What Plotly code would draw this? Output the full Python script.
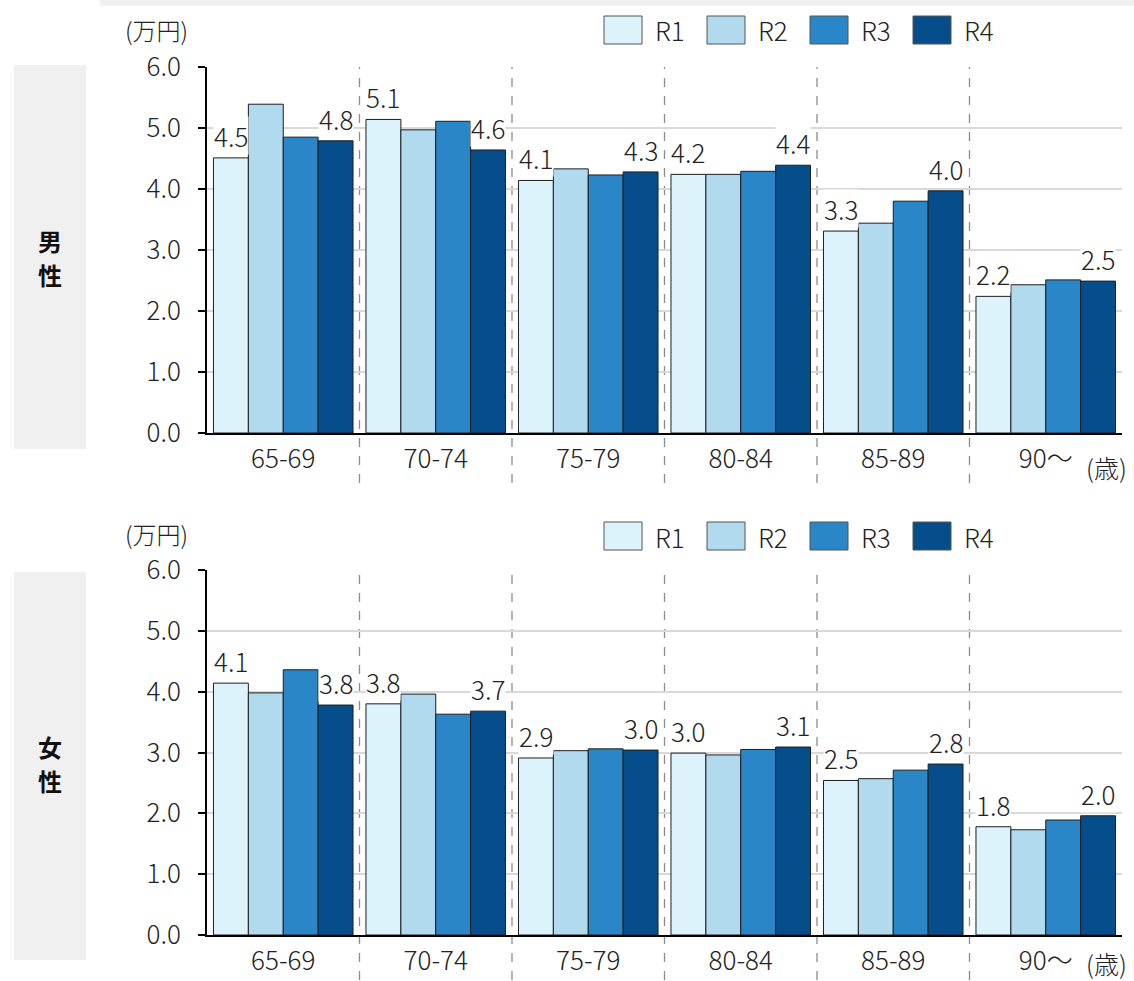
import plotly.graph_objects as go

# ---------------- data ----------------
categories = ["65-69", "70-74", "75-79", "80-84", "85-89", "90～"]
series_names = ["R1", "R2", "R3", "R4"]

male_r1 = [4.51, 5.14, 4.14, 4.24, 3.31, 2.24]
male_r2 = [5.39, 4.97, 4.33, 4.24, 3.44, 2.43]
male_r3 = [4.85, 5.11, 4.23, 4.29, 3.80, 2.51]
male_r4 = [4.79, 4.64, 4.28, 4.39, 3.97, 2.49]

female_r1 = [4.14, 3.80, 2.91, 2.99, 2.54, 1.78]
female_r2 = [3.98, 3.96, 3.03, 2.96, 2.57, 1.73]
female_r3 = [4.36, 3.63, 3.06, 3.05, 2.71, 1.89]
female_r4 = [3.78, 3.68, 3.04, 3.09, 2.81, 1.96]

y_ticks = [0, 1, 2, 3, 4, 5, 6]
y_ticktext = ["0.0", "1.0", "2.0", "3.0", "4.0", "5.0", "6.0"]

colors = ["#dcf3fc", "#b2daee", "#2a86c7", "#064e8b"]
labelled = [0, 3]  # series indices that carry value labels

# ---------------- layout helpers ----------------
W, H = 1134, 981
FONT = "Noto Sans CJK JP"
TXT = "#222222"
FS = 26
WT = 300


def fx(x):
    return x / W


def fy(y):
    return 1 - y / H


def tfont(size, color=TXT, weight=WT):
    return dict(family=FONT, size=size, color=color, weight=weight)


bargap = 0.085
bw = (1 - bargap) / 4
offsets = [-(1 - bargap) / 2 + bw * (k + 0.5) for k in range(4)]

panels = [
    dict(chars=["男", "性"], char_y=[241, 274], data=[male_r1, male_r2, male_r3, male_r4],
         top=67, bottom=433, box=(14, 65, 86, 449), legend_y=16, dash_bottom=483,
         unit_y=30, age_y=467),
    dict(chars=["女", "性"], char_y=[746, 780], data=[female_r1, female_r2, female_r3, female_r4],
         top=570, bottom=935, box=(14, 572, 86, 960), legend_y=522, dash_bottom=980,
         unit_y=533, age_y=963),
]

x_left, x_right = 207, 1122

fig = go.Figure()
shapes = []
annotations = []

# top grey band
shapes.append(dict(type="rect", xref="paper", yref="paper", x0=fx(100), x1=1,
                   y0=fy(6), y1=1, fillcolor="#f0f0f0", line=dict(width=0), layer="below"))

for p_i, p in enumerate(panels):
    sfx = "" if p_i == 0 else str(p_i + 1)
    xa, ya = "x" + sfx, "y" + sfx
    for k, (nm, vals) in enumerate(zip(series_names, p["data"])):
        fig.add_trace(go.Bar(
            x=categories, y=vals, name=nm, xaxis=xa, yaxis=ya,
            marker=dict(color=colors[k], line=dict(color="#1e1e1e", width=1)),
            showlegend=False, hoverinfo="x+y+name",
        ))
        if k in labelled:
            for i, v in enumerate(vals):
                annotations.append(dict(
                    xref=xa, yref=ya, x=i + offsets[k], y=v, text=f"{v:.1f}",
                    showarrow=False, yanchor="bottom", yshift=3,
                    bgcolor="white", borderpad=0, font=tfont(FS)))

    dom_y = [fy(p["bottom"]), fy(p["top"])]
    fig.layout["xaxis" + sfx] = dict(
        domain=[fx(x_left), fx(x_right)], anchor=ya, type="category", range=[-0.5, 5.5],
        showline=True, linecolor="black", linewidth=2, ticks="", automargin=False,
        tickfont=tfont(FS), ticklabelstandoff=2,
        showgrid=False, fixedrange=True)
    fig.layout["yaxis" + sfx] = dict(
        domain=dom_y, anchor=xa, range=[0, 6], tickvals=y_ticks, ticktext=y_ticktext,
        showline=True, linecolor="black", linewidth=2, ticks="outside", ticklen=7,
        tickcolor="black", tickwidth=2, ticklabelstandoff=12, automargin=False,
        tickfont=tfont(FS),
        showgrid=True, gridcolor="#d9d9d9", gridwidth=2, zeroline=False, fixedrange=True)

    # dashed separators
    ph = p["bottom"] - p["top"]
    for i in range(len(categories) - 1):
        shapes.append(dict(type="line", xref=xa, yref=ya + " domain",
                           x0=i + 0.5, x1=i + 0.5,
                           y0=-(p["dash_bottom"] - p["bottom"]) / ph, y1=1,
                           line=dict(color="#8c8c8c", width=1.3, dash="dash"),
                           layer="below"))

    # side grey box with label
    bx0, by0, bx1, by1 = p["box"]
    shapes.append(dict(type="rect", xref="paper", yref="paper",
                       x0=fx(bx0), x1=fx(bx1), y0=fy(by1), y1=fy(by0),
                       fillcolor="#f0f0f0", line=dict(width=0), layer="below"))
    for ch, cy in zip(p["chars"], p["char_y"]):
        annotations.append(dict(xref="paper", yref="paper", x=fx((bx0 + bx1) / 2),
                                y=fy(cy), text=ch,
                                showarrow=False, xanchor="center", yanchor="middle",
                                font=tfont(24, "#111111", 700)))

    # unit labels
    annotations.append(dict(xref="paper", yref="paper", x=fx(156), y=fy(p["unit_y"]),
                            text="(万円)", showarrow=False, xanchor="center",
                            yanchor="middle", font=tfont(24)))
    annotations.append(dict(xref="paper", yref="paper", x=fx(1106), y=fy(p["age_y"]),
                            text="(歳)", showarrow=False, xanchor="center",
                            yanchor="middle", font=tfont(25)))

    # legend (manual, large swatches)
    ly = p["legend_y"]
    for k, nm in enumerate(series_names):
        x0 = 604 + 103 * k
        shapes.append(dict(type="rect", xref="paper", yref="paper",
                           x0=fx(x0), x1=fx(x0 + 38), y0=fy(ly + 28), y1=fy(ly),
                           fillcolor=colors[k], line=dict(color="#555555", width=1)))
        annotations.append(dict(xref="paper", yref="paper", x=fx(x0 + 49),
                                y=fy(ly + 14), text=nm, showarrow=False,
                                xanchor="left", yanchor="middle", font=tfont(FS)))

fig.update_layout(
    width=W, height=H, margin=dict(l=0, r=0, t=0, b=0, pad=0, autoexpand=False),
    paper_bgcolor="white", plot_bgcolor="white",
    barmode="group", bargap=bargap, bargroupgap=0,
    shapes=shapes, annotations=annotations,
    font=dict(family=FONT, color=TXT),
)

fig.write_html("out.html", config={"displayModeBar": False},
               post_script="document.body.style.margin='0';")
